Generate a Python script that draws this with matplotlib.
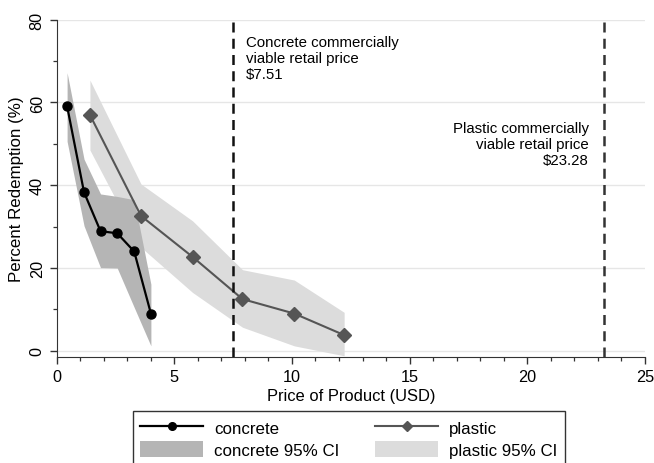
import numpy as np
import matplotlib.pyplot as plt
from matplotlib.patches import Patch
from matplotlib.lines import Line2D

plt.rcParams["font.family"] = ["Liberation Sans", "DejaVu Sans"]

# =========================
# DATA
# =========================

concrete_price = [0.45, 1.17, 1.87, 2.58, 3.30, 4.01]
concrete_pct = [59.1, 38.3, 28.9, 28.4, 24.0, 9.0]
concrete_lo = [50.6, 30.2, 20.1, 20.0, 10.5, 1.2]
concrete_hi = [67.2, 46.3, 37.9, 37.3, 36.5, 16.1]

plastic_price = [1.42, 3.59, 5.78, 7.90, 10.10, 12.22]
plastic_pct = [57.0, 32.6, 22.7, 12.5, 9.0, 3.8]
plastic_lo = [48.5, 25.0, 14.1, 5.7, 1.2, -1.2]
plastic_hi = [65.4, 40.3, 31.4, 19.6, 17.1, 9.3]

concrete_viable = 7.51
plastic_viable = 23.28

COLORS = {
    "concrete": "#000000",
    "plastic": "#555555",
    "concrete_ci": "#b5b5b5",
    "plastic_ci": "#dcdcdc",
}

# =========================
# PLOT
# =========================

fig = plt.figure(figsize=(6.54, 4.64), dpi=100)
ax = fig.add_axes([0.0864, 0.2284, 0.8998, 0.727])

ax.grid(axis="y", color="#e6e6e6", linewidth=1.0)
ax.set_axisbelow(True)

ax.fill_between(plastic_price, plastic_lo, plastic_hi,
                color=COLORS["plastic_ci"], linewidth=0, zorder=1)
ax.fill_between(concrete_price, concrete_lo, concrete_hi,
                color=COLORS["concrete_ci"], linewidth=0, zorder=2)

ax.plot(plastic_price, plastic_pct, color=COLORS["plastic"], linewidth=1.5,
        marker="D", markersize=7, zorder=3)
ax.plot(concrete_price, concrete_pct, color=COLORS["concrete"], linewidth=1.6,
        marker="o", markersize=6.5, zorder=4)

ax.axvline(concrete_viable, color="#111111", linestyle=(0, (4, 2.5)),
           linewidth=1.8, zorder=5)
ax.axvline(plastic_viable, color="#333333", linestyle=(0, (4, 2.5)),
           linewidth=1.8, zorder=5)

ax.text(8.05, 76.4, "Concrete commercially\nviable retail price\n$7.51",
        ha="left", va="top", fontsize=10.8, linespacing=1.2)
ax.text(22.62, 55.6, "Plastic commercially\nviable retail price\n$23.28",
        ha="right", va="top", fontsize=10.8, linespacing=1.2)

ax.set_xlim(0, 25)
ax.set_ylim(-1.5, 80)
ax.set_xticks([0, 5, 10, 15, 20, 25])
ax.set_xticks(np.arange(0, 26, 1), minor=True)
ax.set_yticks([0, 20, 40, 60, 80])
ax.set_yticks([10, 30, 50, 70], minor=True)

for lab in ax.get_yticklabels():
    lab.set_rotation(90)
    lab.set_va("center")

ax.tick_params(axis="both", which="major", labelsize=11.7, length=5,
               width=1.0, color="#333333")
ax.tick_params(axis="both", which="minor", length=3, width=0.9,
               color="#333333")

ax.spines["top"].set_visible(False)
ax.spines["right"].set_visible(False)
ax.spines["left"].set_color("#333333")
ax.spines["bottom"].set_color("#333333")

ax.set_xlabel("Price of Product (USD)", fontsize=11.9, labelpad=3)
ax.set_ylabel("Percent Redemption (%)", fontsize=12.2, labelpad=4)

handles = [
    Line2D([], [], color=COLORS["concrete"], linewidth=1.6, marker="o",
           markersize=5.5, label="concrete"),
    Patch(facecolor=COLORS["concrete_ci"], edgecolor="none",
          label="concrete 95% CI"),
    Line2D([], [], color=COLORS["plastic"], linewidth=1.5, marker="D",
           markersize=5.5, label="plastic"),
    Patch(facecolor=COLORS["plastic_ci"], edgecolor="none",
          label="plastic 95% CI"),
]

legend = fig.legend(
    handles=handles,
    ncol=2,
    loc="upper left",
    bbox_to_anchor=(0.203, 0.112, 0.661, 0.0),
    mode="expand",
    fontsize=12.2,
    frameon=True,
    fancybox=False,
    framealpha=1.0,
    handlelength=3.7,
    handleheight=1.1,
    handletextpad=0.65,
    labelspacing=0.3,
    borderpad=0.45,
    borderaxespad=0.0,
)
legend.get_frame().set_edgecolor("#333333")
legend.get_frame().set_linewidth(1.0)

fig.savefig("out.png", dpi=100)
